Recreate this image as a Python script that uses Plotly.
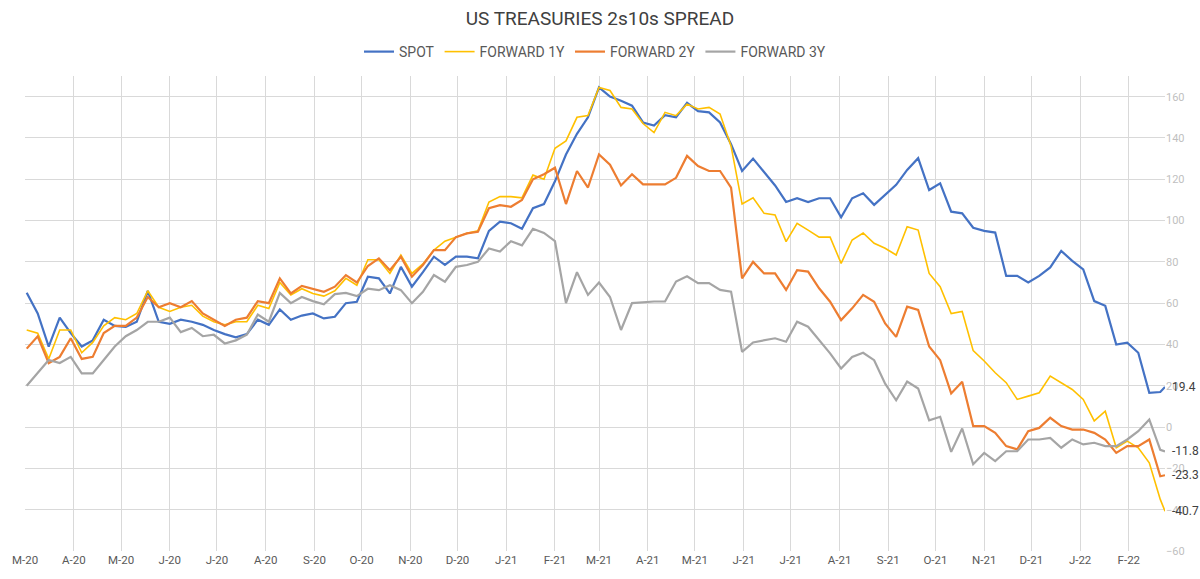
import pandas as pd
import plotly.graph_objects as go

# ---- palette / fonts (Excel-ish office theme) --------------------------------
BLUE = "#4472C4"
GOLD = "#FFC000"
ORANGE = "#ED7D31"
GREY = "#A5A5A5"
GRID = "#D9D9D9"
TXT = "#404040"
MUT = "#BFBFBF"
FONT = "Roboto, 'Liberation Sans Narrow', sans-serif"

# ---- data: weekly readings, last point is the latest print --------------------
dates = list(pd.date_range("2020-03-02", periods=104, freq="7D")) + [pd.Timestamp("2022-02-24")]

spot = [65, 55, 39, 53, 45.5, 39, 42, 52, 49, 48.5,
        51, 66, 51, 50, 52, 51, 49.5, 47, 45, 43.5,
        45, 52, 49.5, 57, 52, 54, 55, 52.6, 53.4, 60,
        60.7, 72.8, 72, 64.7, 77.6, 68, 75, 82.5, 78.5, 82.5,
        82.5, 81.7, 95, 99.5, 98.7, 96, 106, 108, 119, 132,
        142, 150, 164.5, 160, 158, 155.6, 147.5, 146, 151, 150,
        157, 153, 152.4, 147.5, 137, 124, 130, 123.7, 117, 109,
        110.8, 109, 110.8, 110.8, 101.6, 110.8, 113.2, 107.6, 112.4, 117.3,
        124.5, 130.2, 114.8, 118, 104.3, 103.5, 96.5, 95, 94.2, 73.2,
        73.2, 70, 73.2, 77.3, 85.3, 80.5, 76.4, 61, 58.7, 40,
        40.9, 36, 16.6, 17, 19.4]

fwd_1y = [47, 45.5, 33, 47, 47, 36, 41, 49, 53, 52,
          55, 66, 58, 56, 58, 59, 53.7, 51, 49.5, 51,
          51, 59, 57.4, 70, 64, 67, 64.7, 63.4, 66, 72,
          68.7, 81, 81, 74.4, 83.3, 74.4, 79, 85.7, 90, 92,
          93.8, 95, 109, 111.6, 111.6, 111, 122, 120, 135, 138.6,
          150, 150.8, 164.5, 163, 154.8, 154, 147, 142.6, 152.4, 150.8,
          156.4, 154, 154.8, 151.6, 136, 108, 111, 103.5, 102.7, 89.8,
          98.7, 95.4, 92, 92, 79.3, 90.6, 94, 89, 86.6, 83.3,
          97, 95.4, 74.4, 68, 55, 56, 37, 32, 26.3, 21.5,
          13.4, 15, 16.6, 24.7, 21.5, 18.2, 13.4, 3, 7.7, -10,
          -6.8, -10, -17.3, -35, -40.7]

fwd_2y = [38, 44, 31, 34, 43, 33, 34, 45.5, 49, 49,
          53, 63, 58, 60, 58, 61, 55, 52, 49, 52,
          53, 61, 60, 72, 64.7, 68.4, 67, 65.5, 68, 73.6,
          70, 78, 81.7, 76, 82.5, 72.8, 78.5, 85.7, 85.7, 92,
          93.8, 94.6, 106, 107.5, 106.7, 110, 120, 122.4, 125.6, 108,
          124, 116, 132, 127, 117, 122.4, 117.5, 117.5, 117.5, 120.7,
          131.3, 126.4, 124, 124, 116, 72, 80, 74.4, 74.4, 66.4,
          76, 75.3, 67.2, 60.7, 51.8, 57.5, 64, 60.7, 50.2, 43.7,
          58.3, 56.7, 39, 32.4, 16.3, 22, 0.5, 0.5, -2.8, -9.2,
          -10.8, -2, -0.4, 4.5, 0.5, -1.2, -1.2, -2.8, -6, -12.5,
          -9.2, -9.2, -6, -23.8, -23.3]

fwd_3y = [20, 26, 32.5, 31, 34, 26, 26, 32.5, 39, 44,
          47, 51, 51, 53, 46, 48, 44, 44.7, 40.5, 42,
          44.7, 54.5, 51, 65, 60, 63, 61, 59.5, 64.4, 65,
          63.4, 67, 66.3, 68.7, 66.3, 60, 65.5, 73.6, 70.4, 77.6,
          78.5, 80, 86.5, 85, 90, 88, 96, 94, 90, 60,
          75, 64, 70, 63, 47, 60, 60.4, 60.8, 60.8, 70.5,
          73, 69.7, 69.7, 66.4, 65.6, 36.4, 41, 42, 43, 41.3,
          51, 48.6, 42, 35.7, 28.4, 34, 36, 32.4, 21, 13,
          22, 18.7, 3.3, 5, -12, -0.7, -18, -12.5, -16.5, -11.7,
          -11.7, -6, -6, -5.2, -10, -6, -8.4, -7.6, -9.2, -9.2,
          -6, -2, 3.7, -11, -11.8]

series = [("SPOT", spot, BLUE, 2.2),
          ("FORWARD 1Y", fwd_1y, GOLD, 1.6),
          ("FORWARD 2Y", fwd_2y, ORANGE, 2.2),
          ("FORWARD 3Y", fwd_3y, GREY, 2.2)]

# month ticks, labelled like Excel's "mmmmm-yy"
tick_dates = list(pd.date_range("2020-03-01", "2022-02-01", freq="MS"))
tick_labels = ["M-20", "A-20", "M-20", "J-20", "J-20", "A-20", "S-20", "O-20", "N-20", "D-20",
               "J-21", "F-21", "M-21", "A-21", "M-21", "J-21", "J-21", "A-21", "S-21", "O-21",
               "N-21", "D-21", "J-22", "F-22"]

fig = go.Figure()
for name, ys, col, w in series:
    fig.add_trace(go.Scatter(x=dates, y=ys, mode="lines", name=name,
                             line=dict(color=col, width=w)))
    # latest value printed just right of the line end
    fig.add_annotation(x=dates[-1], y=ys[-1], text=f"{ys[-1]:.1f}", showarrow=False,
                       xanchor="left", xshift=5, font=dict(color=TXT, size=12, family=FONT))

fig.update_layout(
    width=1200, height=579,
    paper_bgcolor="white", plot_bgcolor="white",
    font=dict(family=FONT, color=TXT, size=12),
    margin=dict(l=12, r=35, t=76, b=28),
    title=dict(text="US TREASURIES 2s10s SPREAD", x=0.5, xanchor="center",
               y=1 - 18 / 579, yanchor="middle", font=dict(size=19, color=TXT)),
    showlegend=True,
    legend=dict(orientation="h", x=0.5, xanchor="center", y=1 + 24 / 475, yanchor="middle",
                font=dict(size=14, color="#595959"), itemwidth=30,
                bgcolor="rgba(0,0,0,0)"),
    xaxis=dict(range=["2020-02-29 22:00", "2022-02-24"], tickvals=tick_dates, ticktext=tick_labels,
               showgrid=True, gridcolor=GRID, gridwidth=1, zeroline=False, showline=False,
               ticks="", ticklabeloverflow="allow",
               tickfont=dict(color="#595959", size=11.5)),
    yaxis=dict(range=[-60, 170], side="right", dtick=20, tick0=0,
               showgrid=True, gridcolor=GRID, gridwidth=1, zeroline=False, showline=False,
               ticks="", tickfont=dict(color=MUT, size=11)),
)

# the page body has a default 8px margin; drop it so the figure sits at 0,0
fig.write_html("out.html", config={"displayModeBar": False},
               post_script="document.body.style.margin='0';")
